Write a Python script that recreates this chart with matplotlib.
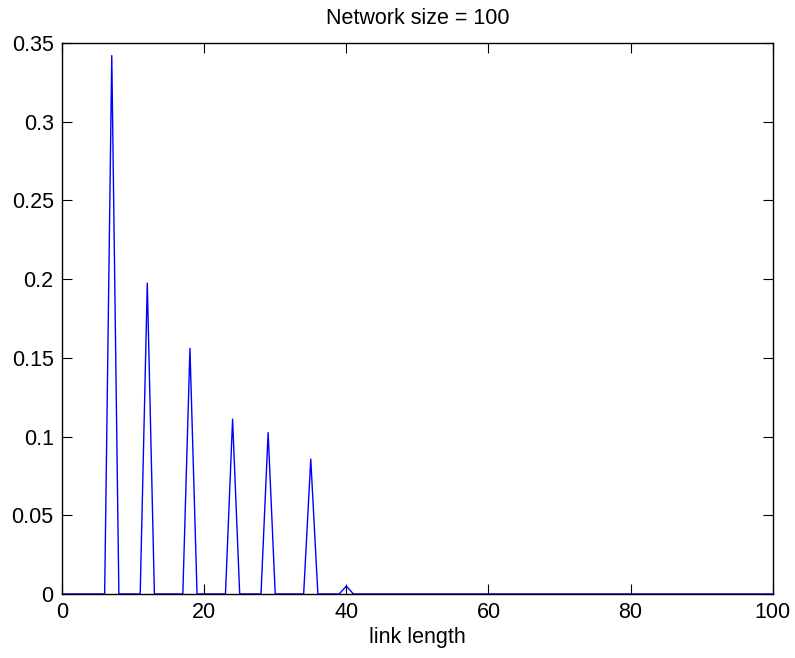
import numpy as np
import matplotlib
matplotlib.use('Agg')
from matplotlib import pyplot as plt

# Link length distribution, network size = 100
link_lengths = np.arange(0, 101)
peak_lengths = [7, 12, 18, 24, 29, 35, 40]
peak_values = [0.342, 0.1975, 0.156, 0.111, 0.1025, 0.0857, 0.005]

x_ticks = [0, 20, 40, 60, 80, 100]
y_ticks = [0, 0.05, 0.1, 0.15, 0.2, 0.25, 0.3, 0.35]
y_tick_labels = ['0', '0.05', '0.1', '0.15', '0.2', '0.25', '0.3', '0.35']

freq = np.zeros(len(link_lengths))
for length, value in zip(peak_lengths, peak_values):
    freq[length] = value

plt.rcParams['font.family'] = ['Liberation Sans', 'DejaVu Sans']
plt.rcParams['font.size'] = 15.5

fig = plt.figure(figsize=(7.95, 6.58), dpi=100)
ax = fig.add_axes([0.078, 0.0973, 0.894, 0.8374])
ax.plot(link_lengths, freq, color='#0000ff', linewidth=1.0)

ax.set_xlim(0, 100)
ax.set_ylim(0, 0.35)
ax.set_xticks(x_ticks)
ax.set_yticks(y_ticks)
ax.set_yticklabels(y_tick_labels)
ax.tick_params(direction='in', length=7, width=0.8, top=True, right=True,
               labelsize=15.5, pad=6)
for spine in ax.spines.values():
    spine.set_linewidth(1.0)

ax.set_xlabel('link length', labelpad=3)
ax.set_title('Network size = 100', fontsize=15.5, pad=14)

fig.savefig('out.png', dpi=100)
